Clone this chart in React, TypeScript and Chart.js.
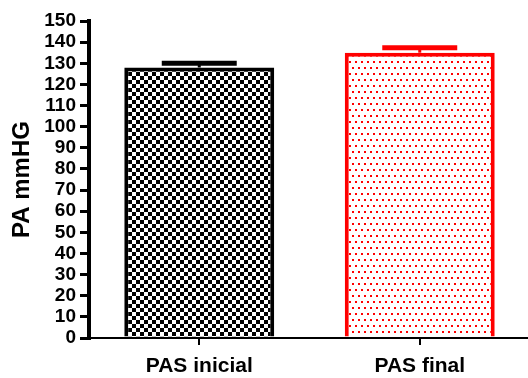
import React, { useEffect, useRef } from "react";
import { Chart, registerables } from "chart.js";

Chart.register(...registerables);

const categories = ["PAS inicial", "PAS final"];
const means = [128, 135];
const errors = [2, 2.3];
const borderColors = ["#000000", "#ff0000"];
const yTitle = "PA mmHG";

function checkerPattern(): CanvasPattern | string {
  const c = document.createElement("canvas");
  c.width = 8;
  c.height = 8;
  const g = c.getContext("2d");
  if (!g) return "#000";
  g.fillStyle = "#fff";
  g.fillRect(0, 0, 8, 8);
  g.fillStyle = "#000";
  g.fillRect(0, 0, 4, 4);
  g.fillRect(4, 4, 4, 4);
  return g.createPattern(c, "repeat") || "#000";
}

function dotPattern(): CanvasPattern | string {
  const c = document.createElement("canvas");
  c.width = 6;
  c.height = 12;
  const g = c.getContext("2d");
  if (!g) return "#fff";
  g.fillStyle = "#fff";
  g.fillRect(0, 0, 6, 12);
  g.fillStyle = "#ff0000";
  g.fillRect(1, 1, 2, 2);
  g.fillRect(4, 7, 2, 2);
  return g.createPattern(c, "repeat") || "#fff";
}

const errorBarPlugin = {
  id: "errorBars",
  afterDatasetsDraw(chart: any) {
    const ctx = chart.ctx;
    const yScale = chart.scales.y;
    const meta = chart.getDatasetMeta(0);
    ctx.save();
    meta.data.forEach((el: any, i: number) => {
      const topY = yScale.getPixelForValue(means[i] + errors[i]);
      const x = el.x;
      const half = el.width / 4;
      ctx.strokeStyle = borderColors[i];
      ctx.lineWidth = 3;
      ctx.beginPath();
      ctx.moveTo(x, el.y);
      ctx.lineTo(x, topY);
      ctx.stroke();
      ctx.lineWidth = 5;
      ctx.beginPath();
      ctx.moveTo(x - half, topY);
      ctx.lineTo(x + half, topY);
      ctx.stroke();
    });
    ctx.restore();
  },
};

export default function App() {
  const ref = useRef<HTMLCanvasElement>(null);

  useEffect(() => {
    if (!ref.current) return;
    const chart = new Chart(ref.current, {
      type: "bar",
      data: {
        labels: categories,
        datasets: [
          {
            data: means,
            backgroundColor: [checkerPattern(), dotPattern()] as any,
            borderColor: borderColors,
            borderWidth: 4,
            borderSkipped: "bottom",
            barPercentage: 0.68,
            categoryPercentage: 1,
          },
        ],
      },
      plugins: [errorBarPlugin],
      options: {
        responsive: false,
        animation: false,
        devicePixelRatio: 1,
        layout: { autoPadding: false, padding: { top: 21, left: 0, right: 0, bottom: 0 } },
        plugins: { legend: { display: false }, tooltip: { enabled: false } },
        scales: {
          x: {
            afterFit: (s: any) => {
              s.height = 40;
            },
            grid: {
              display: true,
              drawOnChartArea: false,
              drawTicks: true,
              offset: false,
              tickLength: 7,
              lineWidth: 2,
              color: "#000",
            },
            border: { display: true, width: 2, color: "#000" },
            ticks: {
              color: "#000",
              padding: 9,
              font: { family: "'Liberation Sans', Arial, sans-serif", size: 21, weight: "bold" },
            },
          },
          y: {
            min: 0,
            max: 150,
            afterFit: (s: any) => {
              s.width = 89;
            },
            grid: {
              display: true,
              drawOnChartArea: false,
              drawTicks: true,
              tickLength: 9,
              lineWidth: 3,
              color: "#000",
            },
            border: { display: true, width: 4, color: "#000" },
            ticks: {
              stepSize: 10,
              autoSkip: false,
              color: "#000",
              padding: 4,
              font: { family: "'Liberation Sans', Arial, sans-serif", size: 19, weight: "bold" },
            },
            title: {
              display: true,
              text: yTitle,
              color: "#000",
              padding: { top: 8, bottom: 0 },
              font: { family: "'Liberation Sans', Arial, sans-serif", size: 24, weight: "bold" },
            },
          },
        },
      },
    });
    return () => chart.destroy();
  }, []);

  return (
    <div style={{ position: "fixed", left: 0, top: 0, width: 530, height: 378, background: "#fff" }}>
      <canvas ref={ref} width={530} height={378} style={{ display: "block" }} />
    </div>
  );
}
